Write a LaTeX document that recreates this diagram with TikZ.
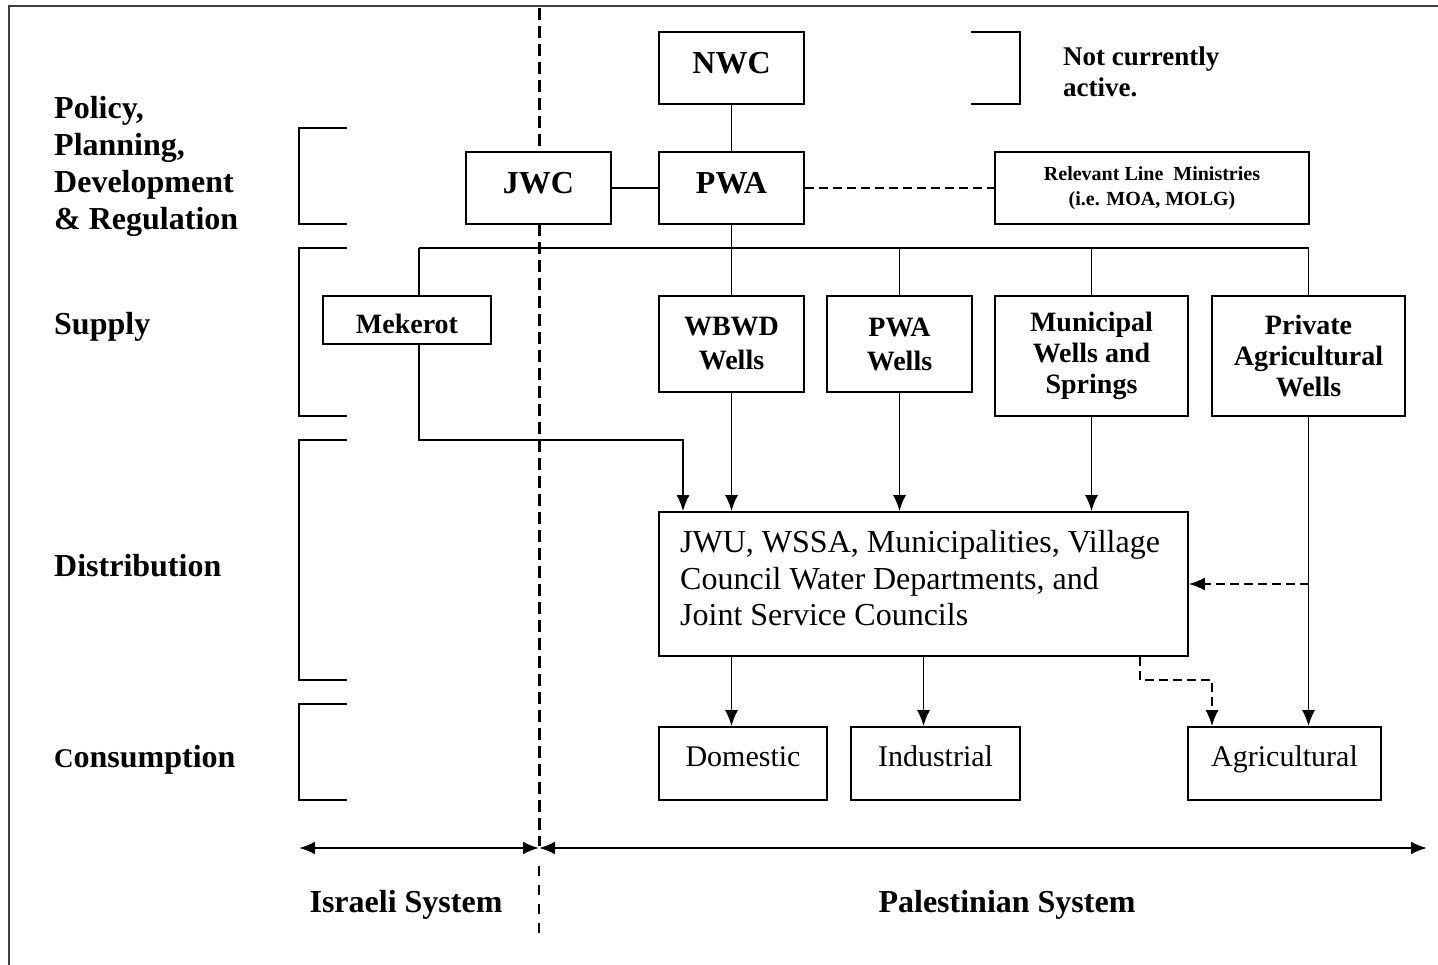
\documentclass[tikz,border=0pt]{standalone}
\usepackage{fontspec}
\setmainfont{Liberation Serif}
\usetikzlibrary{arrows.meta}
\tikzset{
  box/.style={draw, fill=white, line width=1.8pt, inner sep=0pt, align=center},
  conn/.style={line width=1.6pt},
  tipA/.tip={Latex[length=16pt,width=13pt]},
  arr/.style={conn, -tipA},
  dashconn/.style={dash pattern=on 9pt off 5pt},
  brk/.style={line width=1.8pt},
  lbl/.style={font=\fontsize{32}{37}\selectfont\bfseries, inner sep=0pt, align=left},
  big/.style={font=\fontsize{32}{37}\selectfont\bfseries, text height=21pt, text depth=9pt},
  sup/.style={font=\fontsize{28}{34}\selectfont\bfseries},
  supb/.style={font=\fontsize{28}{31}\selectfont\bfseries},
  cons/.style={font=\fontsize{30}{34}\selectfont, text height=20pt, text depth=14pt},
}
\begin{document}
\begin{tikzpicture}[x=1pt,y=-1pt]
\useasboundingbox (0,0) rectangle (1438,965);
% frame
\draw[line width=2pt, black!75] (9,965) -- (9,6) -- (1438,6);

% divider
\draw[line width=3pt, dash pattern=on 12pt off 6pt] (539,8) -- (539,846);
\draw[line width=1.5pt, dash pattern=on 10pt off 9pt] (539,866) -- (539,940);

% left labels
\node[lbl, anchor=west] (lpol) at (54,166.5) {Policy,\\Planning,\\Development\\\& Regulation};
\node[lbl, anchor=base west] (lsup) at (54,335) {Supply};
\node[lbl, anchor=base west] (ldis) at (54,576) {Distribution};
\node[lbl, anchor=base west] (lcon) at (54,767) {{\fontsize{27}{30}\selectfont C}onsumption};

% brackets
\draw[brk] (347,128) -- (299,128) -- (299,224) -- (347,224);
\draw[brk] (347,248) -- (299,248) -- (299,416) -- (347,416);
\draw[brk] (347,440) -- (299,440) -- (299,680) -- (347,680);
\draw[brk] (347,704) -- (299,704) -- (299,800) -- (347,800);
\draw[brk] (971,32) -- (1020,32) -- (1020,104) -- (971,104);
\node[font=\fontsize{27}{31}\selectfont\bfseries, inner sep=0pt, align=left, anchor=west] (note) at (1063,72) {Not currently\\active.};

% helper coordinates
\coordinate (bus) at (0,248);
\coordinate (mekx) at (419,248);
\coordinate (mkturn) at (683,440);
\coordinate (dd1) at (1140,680);
\coordinate (dd2) at (1212,680);

% boxes
\node[box, big, minimum width=145pt, minimum height=72pt] (nwc) at (731.5,68) {NWC};
\node[box, big, minimum width=145pt, minimum height=72pt] (jwc) at (538.5,188) {JWC};
\node[box, big, minimum width=145pt, minimum height=72pt] (pwa) at (731.5,188) {PWA};
\node[box, font=\fontsize{20}{25}\selectfont\bfseries, minimum width=314pt, minimum height=72pt] (min) at (1152,188) {Relevant Line~~Ministries\\(i.e. MOA, MOLG)};

\node[box, sup, text height=27pt, text depth=0pt, minimum width=168pt, minimum height=48pt] (mek) at (407,320) {Mekerot};
\node[box, sup, minimum width=145pt, minimum height=96pt] (wbwd) at (731.5,344) {WBWD\\Wells};
\node[box, sup, minimum width=145pt, minimum height=96pt] (pwaw) at (899.5,344) {PWA\\Wells};
\node[box, supb, minimum width=193pt, minimum height=120pt] (mun) at (1091.5,356) {Municipal\\Wells and\\Springs};
\node[box, supb, minimum width=193pt, minimum height=120pt] (prv) at (1308.5,356) {Private\\Agricultural\\Wells};

\node[box, minimum width=529pt, minimum height=144pt] (dist) at (923.5,584) {};
\node[font=\fontsize{32}{36.5}\selectfont, inner sep=0pt, align=left, anchor=west] (disttxt) at (680,578.5) {JWU, WSSA, Municipalities, Village\\Council Water Departments, and\\Joint Service Councils};

\node[box, cons, minimum width=168pt, minimum height=73pt] (dom) at (743,763.5) {Domestic};
\node[box, cons, minimum width=169pt, minimum height=73pt] (ind) at (935.5,763.5) {Industrial};
\node[box, cons, minimum width=193pt, minimum height=73pt] (agr) at (1284.5,763.5) {Agricultural};

% connectors
\draw[conn] (nwc.south) -- (pwa.north);
\draw[conn] (jwc.east) -- (pwa.west);
\draw[conn, dashconn] (pwa.east) -- (min.west);
\draw[conn] (pwa.south) -- (wbwd.north);
\draw[conn] (mekx) -- (prv.north |- bus);
\draw[conn] (mekx) -- (mekx |- mek.north);
\draw[conn] (pwaw.north) -- (pwaw.north |- bus);
\draw[conn] (mun.north) -- (mun.north |- bus);
\draw[conn] (prv.north) -- (prv.north |- bus);

\draw[arr] (mekx |- mek.south) |- (mkturn) -- (mkturn |- dist.north);
\draw[arr] (wbwd.south) -- (wbwd.south |- dist.north);
\draw[arr] (pwaw.south) -- (pwaw.south |- dist.north);
\draw[arr] (mun.south) -- (mun.south |- dist.north);
\draw[arr] (prv.south) -- (prv.south |- agr.north);
\draw[arr, dashconn] (prv.south |- dist.east) -- (dist.east);

\draw[arr] (wbwd.south |- dist.south) -- (wbwd.south |- dom.north);
\draw[arr] (dist.south) -- (dist.south |- ind.north);
\draw[arr, dashconn] (dd1 |- dist.south) -- (dd1) -- (dd2) -- (dd2 |- agr.north);

% system arrows
\coordinate (sysL) at (299,848);
\coordinate (sysM) at (539,848);
\coordinate (sysR) at (1427,848);
\draw[line width=2.4pt, tipA-tipA] (sysL) -- (sysM);
\draw[line width=2.4pt, tipA-tipA] (sysM) -- (sysR);
\node[lbl, anchor=base] (isr) at (406,912) {Israeli System};
\node[lbl, anchor=base] (pal) at (1007,912) {Palestinian System};
\end{tikzpicture}
\end{document}
